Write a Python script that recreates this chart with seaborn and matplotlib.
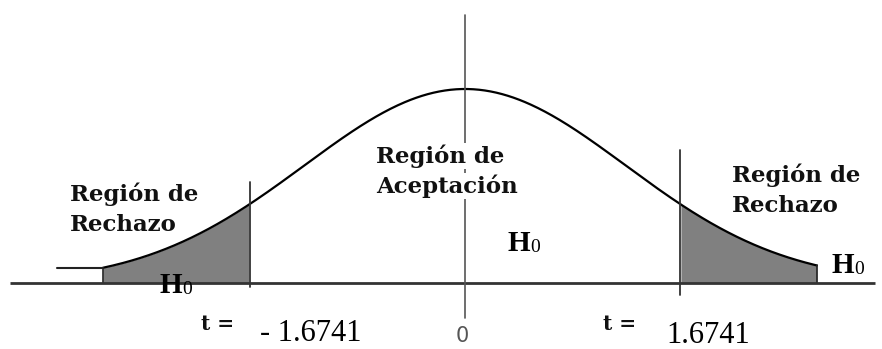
import numpy as np
import seaborn as sns
import matplotlib.pyplot as plt

sns.set_theme(style="white", rc={"axes.facecolor": "white", "figure.facecolor": "white"})

# valores del dibujo
t_crit = 1.6741            # valor critico de t
curve_scale = 1.25         # anchura de la campana dibujada
tail_left = -2.82          # donde empieza la zona sombreada izquierda
tail_right = 2.74          # donde termina la zona sombreada derecha
stub_left = -3.18          # tramo plano a la izquierda de la curva
axis_left, axis_right = -3.54, 3.19

region_labels = ["Región de\nRechazo", "Región de\nAceptación", "Región de\nRechazo"]
crit_labels = ["- 1.6741", "0", "1.6741"]

W, H = 882, 349
X0, XS = 465, 128.4   # pixel del origen y pixeles por unidad t
Y0, YS = 283, 194     # pixel de la linea base y pixeles por unidad de altura


def fx(x):
    return x / W


def fy(y):
    return 1 - y / H


def bell(t):
    return np.exp(-0.5 * (np.asarray(t) / curve_scale) ** 2)


fig = plt.figure(figsize=(W / 100, H / 100), dpi=100)
ax = fig.add_axes([0, 0, 1, 1])
ax.set_xlim(-X0 / XS, (W - X0) / XS)
ax.set_ylim(-(H - Y0) / YS, Y0 / YS)
ax.axis("off")

t = np.linspace(tail_left, tail_right, 500)
curve = bell(t)

# zonas de rechazo
tl = t[t <= -t_crit]
tr = t[t >= t_crit]
ax.fill_between(tl, 0, bell(tl), color="#808080", lw=0)
ax.fill_between(tr, 0, bell(tr), color="#808080", lw=0)

sns.lineplot(x=t, y=curve, color="black", lw=1.6, sort=False, estimator=None, ax=ax)
ax.plot([stub_left, tail_left], [bell(tail_left)] * 2, color="#222222", lw=1.5)
ax.plot([tail_left, tail_left], [0, bell(tail_left)], color="#222222", lw=1.2)
ax.plot([tail_right, tail_right], [0, bell(tail_right)], color="#222222", lw=1.2)

# ejes
ax.plot([axis_left, axis_right], [0, 0], color="#333333", lw=2.0, solid_capstyle="butt")
ax.plot([0, 0], [-0.18, 1.38], color="#555555", lw=1.2)
ax.plot([-t_crit, -t_crit], [-0.02, 0.52], color="#333333", lw=1.3)
ax.plot([t_crit, t_crit], [-0.06, 0.686], color="#333333", lw=1.3)

serif_b = dict(family=["DejaVu Serif"], fontweight="bold", fontsize=16.5, color="#111111")
times = ["Liberation Serif", "DejaVu Serif"]

# etiquetas de regiones (x izquierda, linea base de la primera linea)
for label, (x, y) in zip(region_labels, [(70, 201), (376, 163), (732, 182)]):
    first, second = label.split("\n")
    bb = dict(facecolor="white", edgecolor="none", pad=1) if x == 376 else None
    ax.text(fx(x), fy(y), first, transform=ax.transAxes, ha="left", va="baseline",
            bbox=bb, zorder=5, **serif_b)
    ax.text(fx(x), fy(y + 30), second, transform=ax.transAxes, ha="left", va="baseline",
            bbox=bb, zorder=5, **serif_b)

# H0
for x, y in [(507, 251), (159, 293), (831, 273)]:
    ax.text(fx(x), fy(y), "H", transform=ax.transAxes, ha="left", va="baseline",
            family=times, fontweight="bold", fontsize=21, color="black", zorder=6)
    ax.text(fx(x + 23), fy(y + 1), "0", transform=ax.transAxes, ha="left", va="baseline",
            family=times, fontsize=14, color="black", zorder=6)

# valores criticos
for x in (201, 603):
    ax.text(fx(x), fy(330), "t =", transform=ax.transAxes, ha="left", va="baseline",
            family=["DejaVu Serif"], fontweight="bold", fontsize=14.5, color="#111111")
ax.text(fx(260), fy(341), crit_labels[0], transform=ax.transAxes, ha="left", va="baseline",
        family=times, fontsize=22, color="black")
ax.text(fx(462), fy(342), crit_labels[1], transform=ax.transAxes, ha="center", va="baseline",
        family=["Liberation Sans Narrow", "DejaVu Sans"], fontsize=15, color="#555555")
ax.text(fx(666), fy(343), crit_labels[2], transform=ax.transAxes, ha="left", va="baseline",
        family=times, fontsize=22, color="black")

fig.savefig("out.png", dpi=100)
